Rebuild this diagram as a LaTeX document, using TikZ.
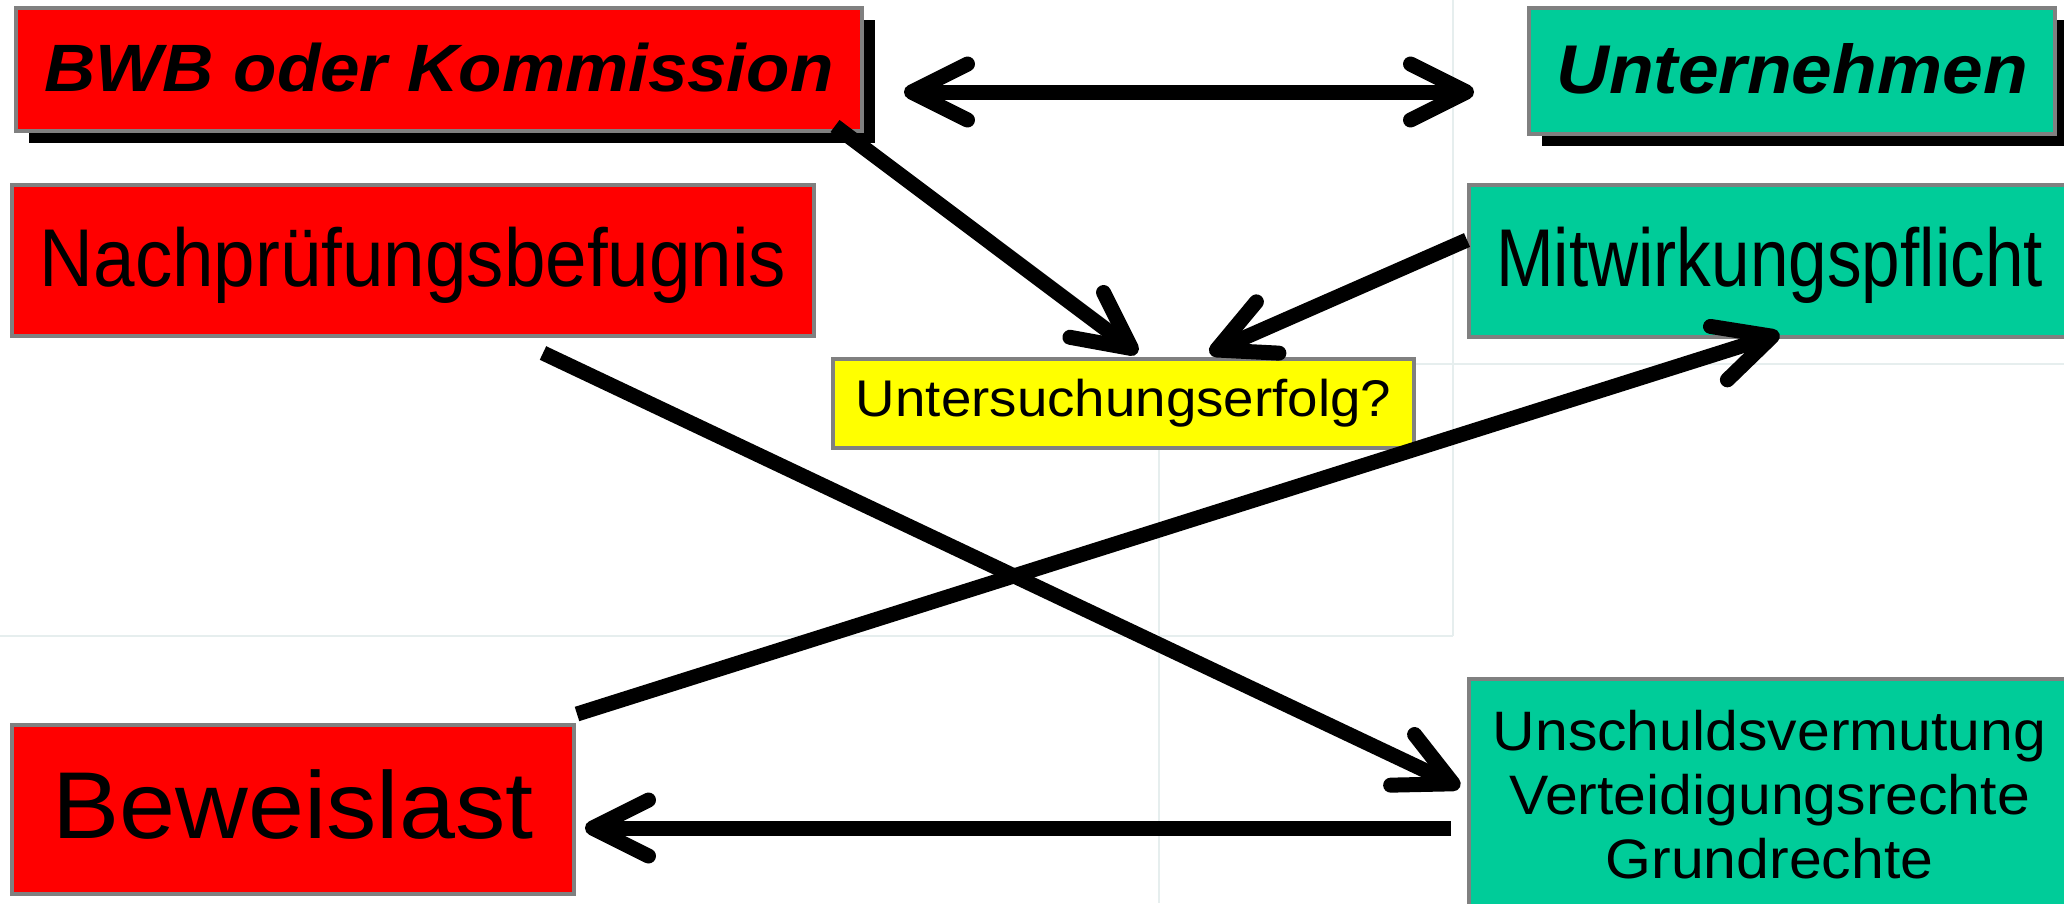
\documentclass[tikz,border=0pt]{standalone}
\usepackage{fontspec}
\setmainfont{Liberation Sans}
\newfontfamily\sanswide[FakeStretch=1.06]{Liberation Sans}
\newfontfamily\sansnarrow[FakeStretch=0.91]{Liberation Sans}
\newfontfamily\sanscond[FakeStretch=0.845]{Liberation Sans}
\usetikzlibrary{arrows.meta,shadows}

\definecolor{boxred}{RGB}{255,0,0}
\definecolor{boxgreen}{RGB}{0,204,153}
\definecolor{boxyellow}{RGB}{255,255,0}
\definecolor{boxframe}{RGB}{128,128,128}
\definecolor{gridline}{RGB}{230,238,238}

\tikzset{
  barb/.tip={Straight Barb[length=56pt, width=56pt, round]},
  box/.style={draw=boxframe, line width=4pt, inner sep=0pt, align=center},
  red box/.style={box, fill=boxred},
  green box/.style={box, fill=boxgreen},
  yellow box/.style={box, fill=boxyellow},
  shadowed/.style={drop shadow={shadow xshift=13pt, shadow yshift=-12pt, fill=black, opacity=1}},
  conn/.style={draw, line width=15pt, -barb},
  grid line/.style={draw=gridline, line width=2pt},
}

\begin{document}
\begin{tikzpicture}[x=1pt, y=-1pt]
  \useasboundingbox (0,0) rectangle (2064,903);

  % faint table lines behind everything
  \path[grid line] (0,636) -- (1453,636) (1453,0) -- (1453,636);
  \path[grid line] (1159,364) -- (2064,364) (1159,364) -- (1159,903);

  % the two parties
  \node[red box, shadowed, minimum width=846pt, minimum height=123pt,
        text height=49pt, text depth=6pt,
        font=\sanswide\bfseries\itshape\fontsize{67}{80}\selectfont]
        (bwb) at (439,69.5) {BWB oder Kommission};
  \node[green box, shadowed, minimum width=526pt, minimum height=126pt,
        text height=50pt, text depth=6pt,
        font=\sanswide\bfseries\itshape\fontsize{69}{82}\selectfont]
        (unt) at (1792,71) {Unternehmen};

  % powers and duties
  \node[red box, minimum width=802pt, minimum height=151pt,
        text height=60pt, text depth=9pt,
        font=\sansnarrow\fontsize{82}{98}\selectfont]
        (nach) at (413,260.5) {Nachprüfungsbefugnis};
  \node[green box, minimum width=601pt, minimum height=152pt,
        text height=60pt, text depth=9pt,
        font=\sanscond\fontsize{82}{98}\selectfont]
        (mitw) at (1769.5,261) {Mitwirkungspflicht};
  \node[yellow box, minimum width=581pt, minimum height=89pt,
        font=\sanswide\fontsize{51.6}{62}\selectfont]
        (yell) at (1123.5,403.5) {Untersuchungserfolg?};

  % burden of proof and rights
  \node[red box, minimum width=562pt, minimum height=169pt,
        text height=68pt, text depth=11pt,
        font=\sanswide\fontsize{95}{114}\selectfont]
        (bew) at (293,809.5) {Beweislast};
  \node[green box, minimum width=601pt, minimum height=231pt,
        font=\sanswide\fontsize{55.6}{64}\selectfont]
        (uns) at (1769.5,794.5) {Unschuldsvermutung\\Verteidigungsrechte\\Grundrechte};

  % connectors
  \path[conn, barb-barb] ([shift={(40,22.5)}]bwb.east) -- ([shift={(-53,21)}]unt.west);
  \path[conn] ([shift={(-29,-7)}]bwb.south east) -- ([shift={(14,-4)}]yell.north);
  \path[conn] ([shift={(0,-21)}]mitw.west) -- ([shift={(86,-4)}]yell.north);
  \path[conn] ([shift={(130,15)}]nach.south) -- ([shift={(-7,-7.5)}]uns.west);
  \path[conn] ([shift={(-16,33.5)}]uns.west) -- ([shift={(9,18.5)}]bew.east);
  \path[conn] ([shift={(1,-9)}]bew.north east) -- ([shift={(10,-5)}]mitw.south);
\end{tikzpicture}
\end{document}
